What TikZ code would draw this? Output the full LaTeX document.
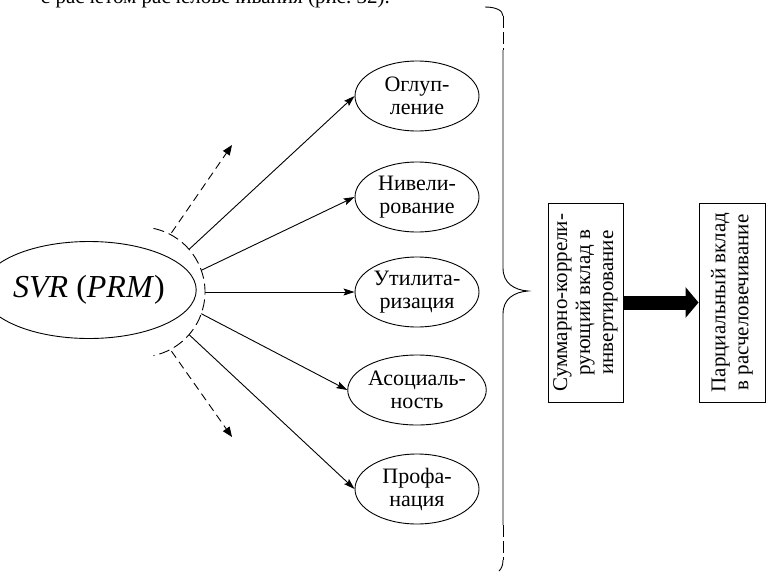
\documentclass[tikz,border=0pt]{standalone}
\usepackage{fontspec}
\setmainfont{Liberation Serif}[Ligatures=TeX]
\usetikzlibrary{shapes.geometric,arrows.meta}
\begin{document}
\begin{tikzpicture}[x=1pt,y=-1pt,
  every node/.style={font=\rmfamily\fontsize{21}{23}\selectfont},
  ln/.style={line width=0.9pt},
  oval/.style={ln, draw, ellipse, minimum width=124pt, minimum height=70pt, inner sep=0pt, align=center,
    font=\rmfamily\fontsize{22}{23}\selectfont},
  boxnode/.style={ln, draw, minimum height=199pt, inner sep=0pt},
  arr/.style={ln, -{Stealth[length=11pt,width=7pt,inset=2pt]}},
  darr/.style={ln, dash pattern=on 8pt off 5pt, -{Triangle[length=10pt,width=8pt]}},
  arcdash/.style={ln, dash pattern=on 11pt off 5pt},
  bracedash/.style={ln, dash pattern=on 12pt off 4pt}]
\useasboundingbox (0,0) rectangle (766,571);
\begin{scope}
  \clip (0,0) rectangle (766,571);
  \node[anchor=base east, inner sep=0pt] (toptext) at (390,3) {с расчетом расчеловечивания (рис.~32).};
\end{scope}

% central ellipse
\node[ln, draw, ellipse, minimum width=164pt, minimum height=97pt, inner sep=0pt,
  font=\rmfamily\fontsize{32}{36}\selectfont] (svr) at (89,290) {\textit{SVR} (\textit{PRM})};

% dashed arc
\coordinate (c) at (140,292);
\draw[arcdash] (c) ++(-78:65) arc[start angle=-78, end angle=78, radius=65];

% right ellipses
\node[oval] (e1) at (417,96)  {Оглуп-\\ление};
\node[oval] (e2) at (417,197) {Нивели-\\рование};
\node[oval] (e3) at (417,292) {Утилита-\\ризация};
\node[oval] (e4) at (417,390) {Асоциаль-\\ность};
\node[oval] (e5) at (417,489) {Профа-\\нация};

% start points on arc
\path (c) ++(-41:65) coordinate (p1);
\path (c) ++(-19.5:65) coordinate (p2);
\path (c) ++(0:65) coordinate (p3);
\path (c) ++(19.5:65) coordinate (p4);
\path (c) ++(41:65) coordinate (p5);
\path (c) ++(-62:67) coordinate (q1);
\path (c) ++(62:67) coordinate (q2);
\coordinate (d1) at (232,145);
\coordinate (d2) at (232,437);

\draw[arr] (p1) -- (e1.west);
\draw[arr] (p2) -- (e2.west);
\draw[arr] (p3) -- (e3.west);
\draw[arr] (p4) -- (e4.west);
\draw[arr] (p5) -- (e5.west);
\draw[darr] (q1) -- (d1);
\draw[darr] (q2) -- (d2);

% brace
\draw[ln] (485,7) .. controls (495,7) and (503,10) .. (503,16);
\draw[bracedash] (503,16) -- (503,50);
\draw[ln] (503,50) -- (503,268) .. controls (503,283) and (514,290) .. (528,291)
  .. controls (514,292) and (503,299) .. (503,314) -- (503,525);
\draw[bracedash] (503,525) -- (503,560);
\draw[ln] (503,560) .. controls (503,566) and (501,569) .. (499,571);

% boxes
\node[boxnode, minimum width=75pt] (b1) at (585.5,302.5) {};
\node[rotate=90, align=center] (t1) at (b1.center) {Суммарно-коррели-\\рующий вклад в\\инвертирование};
\node[boxnode, minimum width=66pt] (b2) at (732,302.5) {};
\node[rotate=90, align=center] (t2) at (b2.center) {Парциальный вклад\\в расчеловечивание};

\draw[line width=14pt, -{Triangle[length=13pt,width=30pt]}] (b1.east) -- (b2.west);
\end{tikzpicture}
\end{document}
